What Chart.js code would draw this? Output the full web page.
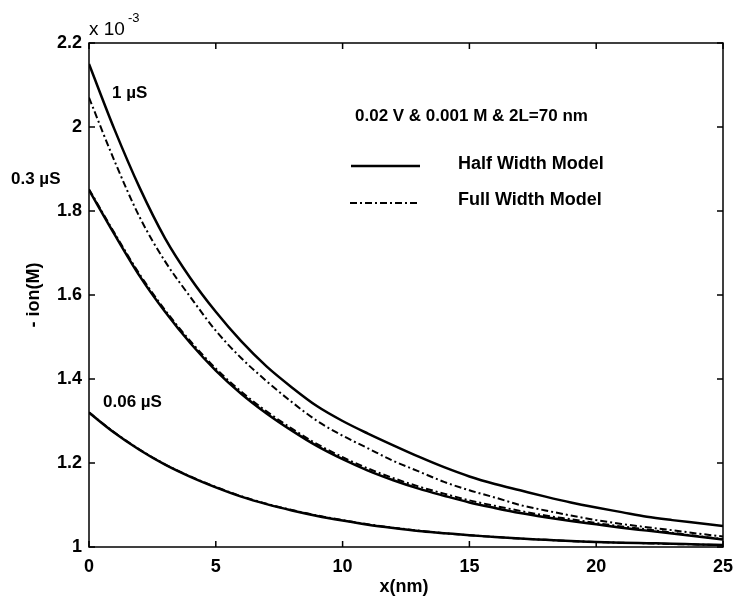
<!DOCTYPE html>
<html>
<head>
<meta charset="utf-8">
<script src="https://cdn.jsdelivr.net/npm/chart.js@4/dist/chart.umd.min.js"></script>
<style>
  html, body { margin: 0; padding: 0; background: #fff; }
  canvas { display: block; }
</style>
</head>
<body>
<canvas id="c" width="735" height="601"></canvas>
<script>
// ion concentration along x, values in units of 1e-3 M
const xNm = [0, 1, 2, 3, 4, 5, 6, 7, 8, 9, 10, 11, 12, 13, 14, 15, 16, 17, 18, 19, 20, 21, 22, 23, 24, 25];

const half1uS = [2.150, 1.995, 1.855, 1.735, 1.640, 1.560, 1.490, 1.430, 1.380, 1.335, 1.300, 1.270, 1.242,
  1.215, 1.190, 1.168, 1.150, 1.135, 1.120, 1.106, 1.094, 1.083, 1.072, 1.064, 1.057, 1.050];
const full1uS = [2.070, 1.920, 1.785, 1.680, 1.595, 1.515, 1.450, 1.395, 1.345, 1.300, 1.265, 1.235, 1.205,
  1.180, 1.155, 1.135, 1.118, 1.100, 1.087, 1.075, 1.064, 1.055, 1.047, 1.040, 1.032, 1.025];
const half03uS = [1.850, 1.745, 1.645, 1.560, 1.485, 1.420, 1.365, 1.318, 1.277, 1.240, 1.209, 1.182, 1.159,
  1.139, 1.122, 1.106, 1.093, 1.081, 1.071, 1.062, 1.054, 1.046, 1.039, 1.032, 1.025, 1.018];
const full03uS = [1.852, 1.748, 1.649, 1.564, 1.490, 1.425, 1.370, 1.323, 1.282, 1.245, 1.214, 1.187, 1.164,
  1.144, 1.127, 1.111, 1.098, 1.086, 1.075, 1.066, 1.057, 1.049, 1.042, 1.034, 1.026, 1.019];
const half006uS = [1.320, 1.272, 1.231, 1.196, 1.167, 1.142, 1.120, 1.102, 1.087, 1.074, 1.063, 1.053, 1.045,
  1.038, 1.033, 1.028, 1.024, 1.020, 1.017, 1.014, 1.012, 1.010, 1.009, 1.008, 1.006, 1.005];
const full006uS = [1.320, 1.273, 1.232, 1.197, 1.168, 1.143, 1.121, 1.103, 1.088, 1.075, 1.064, 1.054, 1.046,
  1.039, 1.033, 1.028, 1.024, 1.020, 1.017, 1.014, 1.012, 1.010, 1.009, 1.007, 1.006, 1.004];

const xTicks = [0, 5, 10, 15, 20, 25];
const yTicks = [1, 1.2, 1.4, 1.6, 1.8, 2, 2.2];

const FONT = "'Liberation Sans', Arial, sans-serif";
const DASH_DOT = [7, 3, 2, 3];

const pts = (ys) => xNm.map((x, i) => ({ x: x, y: ys[i] }));

function series(label, ys, dashed) {
  return {
    label: label,
    data: pts(ys),
    borderColor: "#000",
    borderWidth: dashed ? 2 : 2.5,
    borderDash: dashed ? DASH_DOT : [],
    pointRadius: 0,
    fill: false,
    cubicInterpolationMode: "monotone",
  };
}

// box, inward ticks, labels and legend, matlab style
const decorations = {
  id: "decorations",
  afterDraw(chart) {
    const { ctx, chartArea: a, scales } = chart;
    const sx = scales.x, sy = scales.y;
    ctx.save();
    ctx.strokeStyle = "#000";
    ctx.fillStyle = "#000";
    ctx.lineWidth = 1.5;
    ctx.strokeRect(a.left, a.top, a.right - a.left, a.bottom - a.top);

    const tick = 6;
    ctx.beginPath();
    xTicks.forEach((v) => {
      const px = sx.getPixelForValue(v);
      ctx.moveTo(px, a.bottom); ctx.lineTo(px, a.bottom - tick);
      ctx.moveTo(px, a.top); ctx.lineTo(px, a.top + tick);
    });
    yTicks.forEach((v) => {
      const py = sy.getPixelForValue(v);
      ctx.moveTo(a.left, py); ctx.lineTo(a.left + tick, py);
      ctx.moveTo(a.right, py); ctx.lineTo(a.right - tick, py);
    });
    ctx.stroke();

    // exponent above the y axis
    ctx.textBaseline = "alphabetic";
    ctx.textAlign = "left";
    ctx.font = "19px " + FONT;
    ctx.fillText("x 10", a.left, 35);
    ctx.font = "13px " + FONT;
    ctx.fillText("-3", a.left + 39, 22);

    // axis titles
    ctx.font = "bold 18px " + FONT;
    ctx.textAlign = "center";
    ctx.textBaseline = "middle";
    ctx.fillText("x(nm)", 404, 587);
    ctx.save();
    ctx.translate(34, 295);
    ctx.rotate(-Math.PI / 2);
    ctx.fillText("- ion(M)", 0, 0);
    ctx.restore();

    // curve labels
    ctx.font = "bold 17px " + FONT;
    ctx.textAlign = "left";
    ctx.fillText("1 \u00b5S", 112, 93);
    ctx.fillText("0.3 \u00b5S", 11, 179);
    ctx.fillText("0.06 \u00b5S", 103, 402);

    // legend
    ctx.font = "bold 17px " + FONT;
    ctx.fillText("0.02 V & 0.001 M & 2L=70 nm", 355, 116);
    ctx.font = "bold 18px " + FONT;
    ctx.fillText("Half Width Model", 458, 164);
    ctx.fillText("Full Width Model", 458, 200);
    ctx.lineWidth = 2.5;
    ctx.beginPath();
    ctx.moveTo(351, 166); ctx.lineTo(420, 166);
    ctx.stroke();
    ctx.lineWidth = 2;
    ctx.setLineDash(DASH_DOT);
    ctx.beginPath();
    ctx.moveTo(350, 203); ctx.lineTo(418, 203);
    ctx.stroke();
    ctx.restore();
  },
};

new Chart(document.getElementById("c"), {
  type: "line",
  data: {
    datasets: [
      series("1 uS half", half1uS, false),
      series("1 uS full", full1uS, true),
      series("0.3 uS half", half03uS, false),
      series("0.3 uS full", full03uS, true),
      series("0.06 uS half", half006uS, false),
      series("0.06 uS full", full006uS, true),
    ],
  },
  options: {
    responsive: false,
    animation: false,
    devicePixelRatio: 1,
    layout: { padding: { top: 43, right: 12, left: 0, bottom: 0 } },
    plugins: { legend: { display: false }, tooltip: { enabled: false } },
    scales: {
      x: {
        type: "linear",
        min: 0,
        max: 25,
        afterFit: (s) => { s.height = 54; s.paddingLeft = 0; s.paddingRight = 0; },
        afterBuildTicks: (s) => { s.ticks = xTicks.map((v) => ({ value: v })); },
        grid: { display: false, drawTicks: false },
        border: { display: false },
        ticks: {
          autoSkip: false,
          maxRotation: 0,
          padding: 9,
          color: "#000",
          font: { family: FONT, size: 18, weight: "bold" },
          callback: (v) => String(v),
        },
      },
      y: {
        type: "linear",
        min: 1,
        max: 2.2,
        afterFit: (s) => { s.width = 89; s.paddingTop = 0; s.paddingBottom = 0; },
        afterBuildTicks: (s) => { s.ticks = yTicks.map((v) => ({ value: v })); },
        grid: { display: false, drawTicks: false },
        border: { display: false },
        ticks: {
          autoSkip: false,
          padding: 7,
          color: "#000",
          font: { family: FONT, size: 18, weight: "bold" },
          callback: (v) => String(+Number(v).toFixed(1)),
        },
      },
    },
  },
  plugins: [decorations],
});
</script>
</body>
</html>
